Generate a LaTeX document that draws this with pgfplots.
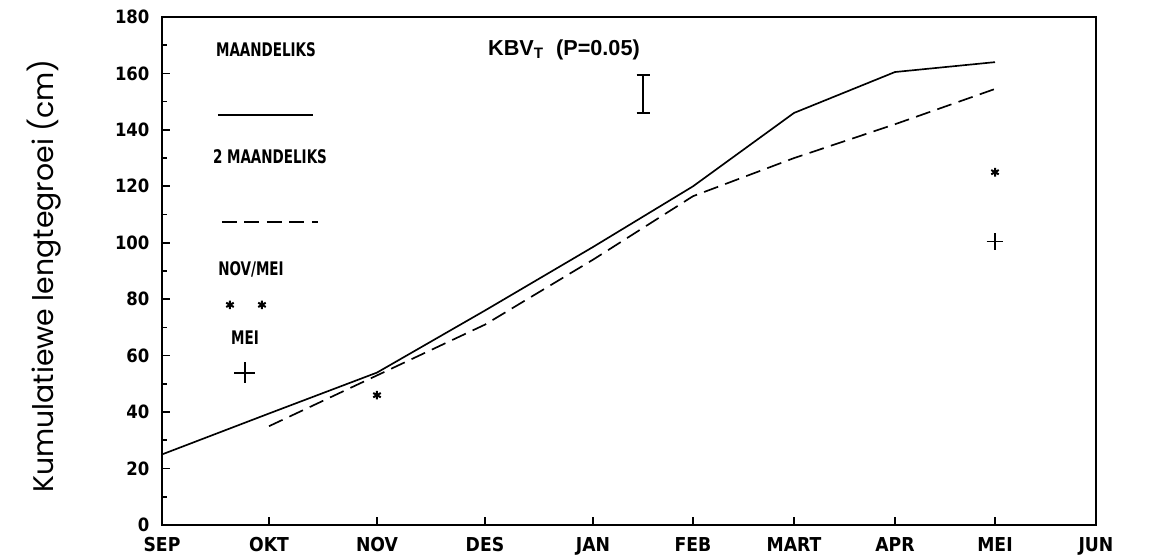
\documentclass[border=0pt]{standalone}
\usepackage{fontspec}
\usepackage{pgfplots}
\pgfplotsset{compat=1.18}
\setmainfont{Liberation Sans}
\newfontfamily\plotfont{DejaVu Sans Condensed}
\newfontfamily\labelfont{Poppins}
% key text: narrow, tall plotter-style lettering
\newcommand{\keytext}[1]{\scalebox{1}[1.25]{\plotfont\bfseries\fontsize{9}{11}\selectfont #1}}

\begin{document}
\begin{tikzpicture}
\begin{axis}[
  scale only axis,
  width=560.4pt, height=304.8pt,
  xmin=0, xmax=9.34, ymin=0, ymax=180,
  xtick={0,1.07,2.15,3.23,4.31,5.31,6.32,7.33,8.33,9.34},
  xticklabels={SEP,OKT,NOV,DES,JAN,FEB,MART,APR,MEI,JUN},
  ytick={0,20,...,180},
  minor y tick num=1,
  tick pos=left,
  tick align=inside,
  major tick length=4.8pt,
  minor tick length=3pt,
  every tick/.style={black, line width=1pt},
  axis line style={line width=1.2pt},
  /pgf/number format/assume math mode=true,
  xticklabel style={font=\plotfont\bfseries\fontsize{11.5}{13}\selectfont, yshift=-4pt},
  yticklabel style={font=\plotfont\bfseries\fontsize{11}{13}\selectfont, xshift=-4pt},
  clip=false,
]
% monthly measurements
\addplot[black, line width=1pt] coordinates {
  (0,25) (1.07,39.5) (2.15,54) (3.23,76) (4.31,98.5)
  (5.31,120) (6.32,146) (7.33,160.5) (8.33,164)};
% two-monthly measurements
\addplot[black, line width=1pt, dash pattern=on 9pt off 4.5pt] coordinates {
  (1.07,35) (2.15,53) (3.23,71) (4.31,94) (5.31,116.5)
  (6.32,130) (7.33,142) (8.33,154.5)};
% Nov/Mei measurements
\addplot[black, only marks, mark=asterisk, mark size=2.6pt, line width=1.2pt]
  coordinates {(2.15,46) (8.33,125)};
% Mei measurement
\addplot[black, only marks, mark=+, mark size=5pt, line width=0.9pt]
  coordinates {(8.33,100.5)};
% LSD bar: stem and caps
\addplot[black, line width=1.2pt] coordinates {(4.81,146) (4.81,159.5)};
\addplot[black, line width=1.2pt] coordinates {(4.745,146) (4.875,146)};
\addplot[black, line width=1.2pt] coordinates {(4.745,159.5) (4.875,159.5)};
\node[font=\bfseries\fontsize{13}{15}\selectfont] at (axis cs:4.02,168.5)
  {KBV\textsubscript{T}\ \ (P=0.05)};

% key
\node at (axis cs:1.04,168.3) {\keytext{MAANDELIKS}};
\addplot[black, line width=1pt] coordinates {(0.56,145.3) (1.51,145.3)};
\node at (axis cs:1.08,130.4) {\keytext{2 MAANDELIKS}};
\addplot[black, line width=1pt, dash pattern=on 9pt off 4.5pt] coordinates {(0.60,107.4) (1.56,107.4)};
\node at (axis cs:0.89,90.4) {\keytext{NOV/MEI}};
\addplot[black, only marks, mark=asterisk, mark size=2.6pt, line width=1.2pt]
  coordinates {(0.68,78) (1.00,78)};
\node at (axis cs:0.83,66.3) {\keytext{MEI}};
\addplot[black, only marks, mark=+, mark size=6.3pt, line width=1.4pt]
  coordinates {(0.83,53.9)};

\node[font=\labelfont\fontsize{17}{19}\selectfont, rotate=90]
  at ([xshift=-70.8pt]rel axis cs:0,0.49) {Kumulatiewe lengtegroei (cm)};
\end{axis}
\pgfresetboundingbox
\useasboundingbox ([shift={(-97.2pt,-21pt)}]current axis.south west)
  rectangle ([shift={(38.4pt,10.2pt)}]current axis.north east);
\end{tikzpicture}
\end{document}
